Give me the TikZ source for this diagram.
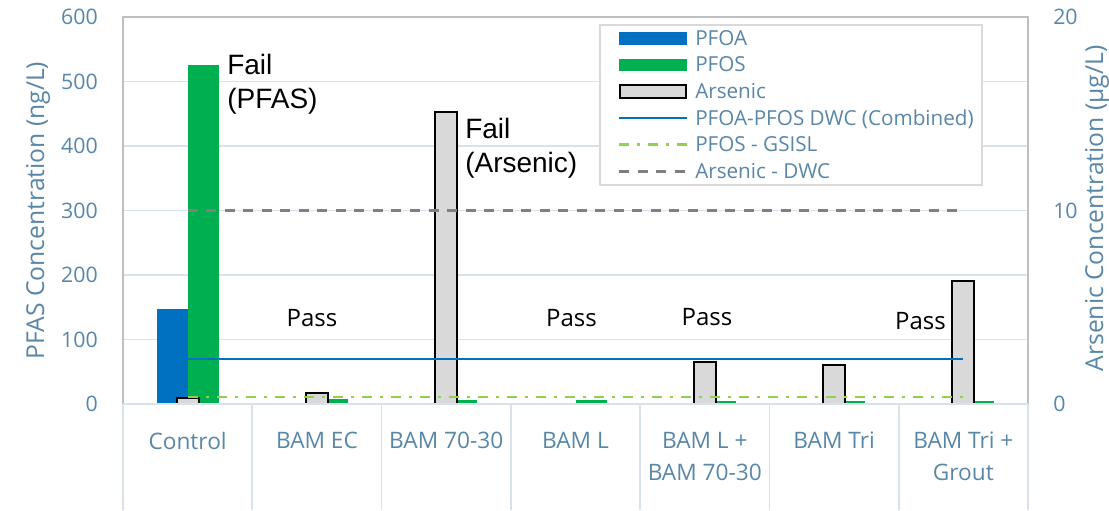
\documentclass[tikz,border=0pt]{standalone}
\usepackage{fontspec}
\setmainfont{Open Sans}
\newfontfamily\annofont{Liberation Sans}

\definecolor{axistext}{RGB}{89,135,168}
\definecolor{gridc}{RGB}{217,226,236}
\definecolor{framec}{RGB}{191,191,191}
\definecolor{pfoacol}{RGB}{0,112,192}
\definecolor{pfoscol}{RGB}{0,176,80}
\definecolor{ascol}{RGB}{217,217,217}
\definecolor{gsislcol}{RGB}{146,208,80}
\definecolor{asdwccol}{RGB}{128,128,128}
\definecolor{legframe}{RGB}{217,217,217}

\begin{document}
\begin{tikzpicture}[x=0.75pt,y=-0.75pt,
  gridline/.style={gridc,line width=1.2pt},
  frameline/.style={framec,line width=1.1pt},
  asbar/.style={fill=ascol,draw=black,line width=1.5pt},
  dwcline/.style={pfoacol,line width=1.9pt},
  gsislline/.style={gsislcol,line width=1.9pt,dash pattern=on 7.5pt off 6pt on 2.25pt off 6pt},
  asdwcline/.style={asdwccol,line width=2pt,dash pattern=on 7.5pt off 6.4pt},
  ticklab/.style={text=axistext,font=\fontsize{16}{19}\selectfont,inner sep=0pt},
  axtitle/.style={text=axistext,font=\fontsize{18.5}{22}\selectfont,inner sep=0pt,rotate=90},
  catlab/.style={text=axistext,font=\fontsize{17}{24}\selectfont,inner sep=0pt,align=center,anchor=north},
  legtext/.style={text=axistext,font=\fontsize{15.5}{18}\selectfont,inner sep=0pt,anchor=base west},
  failtext/.style={text=black,font=\annofont\fontsize{21}{25.5}\selectfont,inner sep=0pt,align=left,anchor=north west},
  passtext/.style={text=black,font=\fontsize{18}{20}\selectfont,inner sep=0pt,anchor=base}
]
\useasboundingbox (0,0) rectangle (1109,510);
\fill[white] (0,0) rectangle (1109,510);

% horizontal gridlines (PFAS axis, every 100 ng/L)
\foreach \v in {100,200,...,500}
  \draw[gridline] (123,{404-0.645*\v}) -- (1028,{404-0.645*\v});

% plot area frame
\draw[frameline] (123,404) -- (123,17) -- (1028,17) -- (1028,404);

% PFOA and PFOS bars (primary axis, ng/L)
\foreach \i/\pfoa/\pfos in {1/148/525, 2/0/7, 3/0/5.5, 4/0/6, 5/0/4.5, 6/0/4.5, 7/0/4.5}{
  \pgfmathsetmacro\c{123+129.2857*(\i-0.5)}
  \fill[pfoacol] ({\c-31},404) rectangle ({\c},{404-0.645*\pfoa});
  \fill[pfoscol] ({\c},404) rectangle ({\c+31},{404-0.645*\pfos});
}

% arsenic bars (secondary axis, ug/L)
\foreach \i/\as in {1/0.33, 2/0.58, 3/15.1, 4/0, 5/2.19, 6/2.03, 7/6.37}{
  \pgfmathsetmacro\c{123+129.2857*(\i-0.5)}
  \ifdim\as pt>0pt
    \filldraw[asbar] ({\c-11},404) rectangle ({\c+11},{404-19.35*\as});
  \fi
}

% category axis and dividers
\draw[gridline] (123,404) -- (1028,404);
\foreach \k in {0,...,7}
  \draw[gridline] ({123+129.2857*\k},404) -- ({123+129.2857*\k},510);

% guideline values
\coordinate (dwcA) at (187.6,{404-0.645*70});
\coordinate (dwcB) at (963.4,{404-0.645*70});
\coordinate (gsA) at (187.6,{404-0.645*11});
\coordinate (gsB) at (963.4,{404-0.645*11});
\coordinate (asA) at (187.6,{404-19.35*10});
\coordinate (asB) at (963.4,{404-19.35*10});
\draw[asdwcline] (asA) -- (asB);
\draw[gsislline] (gsA) -- (gsB);
\draw[dwcline] (dwcA) -- (dwcB);

% left axis
\foreach \v in {0,100,...,600}
  \node[ticklab,anchor=east] (yl\v) at (98,{404-0.645*\v}) {\v};
\node[axtitle] (ytitle) at (38,210.5) {PFAS Concentration (ng/L)};

% right axis
\foreach \v in {0,10,20}
  \node[ticklab,anchor=west] (yr\v) at (1053,{404-19.35*\v}) {\v};
\node[axtitle] (y2title) at (1097,208.5) {Arsenic Concentration (µg/L)};

% category labels
\foreach \i/\t in {1/Control, 2/BAM EC, 3/BAM 70-30, 4/BAM L, 5/{BAM L +\\BAM 70-30}, 6/BAM Tri, 7/{BAM Tri +\\Grout}}
  \node[catlab] (cat\i) at ({123+129.2857*(\i-0.5)},432) {\t};

% annotations
\node[failtext] (failpfas) at (227,53.5) {Fail\\(PFAS)};
\node[failtext] (failas) at (465,117.5) {Fail\\(Arsenic)};
\node[passtext] (pass2) at (312,326.7) {Pass};
\node[passtext] (pass4) at (571.5,326.7) {Pass};
\node[passtext] (pass5) at (707,325) {Pass};
\node[passtext] (pass7) at (920.5,329.3) {Pass};

% legend
\draw[legframe,fill=white,line width=1.1pt] (600,25) rectangle (982,185);
\fill[pfoacol] (619,32) rectangle (687,45);
\fill[pfoscol] (619,58.6) rectangle (687,71.2);
\filldraw[fill=ascol,draw=black,line width=1.4pt] (620,85.2) rectangle (686,97.8);
\draw[dwcline] (619,118.1) -- (687,118.1);
\draw[gsislline] (619,144.7) -- (687,144.7);
\draw[asdwcline] (619,171.3) -- (687,171.3);
\node[legtext] (lg1) at (695,45.3) {PFOA};
\node[legtext] (lg2) at (695,71.9) {PFOS};
\node[legtext] (lg3) at (695,98.5) {Arsenic};
\node[legtext] (lg4) at (695,125.1) {PFOA-PFOS DWC (Combined)};
\node[legtext] (lg5) at (695,151.7) {PFOS - GSISL};
\node[legtext] (lg6) at (695,178.3) {Arsenic - DWC};
\end{tikzpicture}
\end{document}
